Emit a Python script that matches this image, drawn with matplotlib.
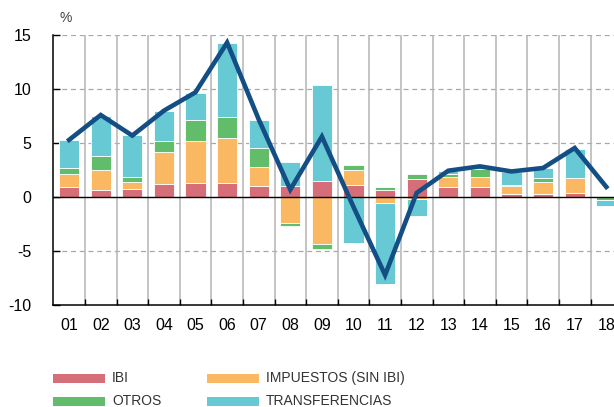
import matplotlib
matplotlib.use("Agg")
import matplotlib.pyplot as plt
from matplotlib.patches import Rectangle
import numpy as np
from matplotlib import font_manager

categories = ["01", "02", "03", "04", "05", "06", "07", "08", "09",
              "10", "11", "12", "13", "14", "15", "16", "17", "18"]
ibi = [0.9, 0.65, 0.77, 1.23, 1.27, 1.27, 1.02, 1.08, 1.48,
       1.17, 0.71, 1.64, 0.93, 0.9, 0.34, 0.31, 0.43, 0.0]
impuestos = [1.26, 1.91, 0.59, 2.97, 3.92, 4.22, 1.79, -2.35, -4.35,
             1.39, -0.56, -0.19, 0.98, 0.95, 0.65, 1.11, 1.33, 0.0]
otros = [0.56, 1.24, 0.52, 0.95, 1.91, 1.89, 1.73, -0.28, -0.46,
         0.46, 0.22, 0.49, 0.28, 0.74, 0.15, 0.4, 0.0, -0.25]
transferencias = [2.56, 3.73, 3.83, 2.84, 2.56, 6.85, 2.62, 2.16, 8.89,
                  -4.2, -7.5, -1.54, 0.22, 0.2, 1.2, 0.9, 2.74, -0.52]
total = [5.3, 7.6, 5.7, 8.0, 9.7, 14.3, 7.2, 0.7, 5.6,
         -0.9, -7.2, 0.4, 2.45, 2.85, 2.38, 2.7, 4.55, 0.95]
yticks = [15, 10, 5, 0, -5, -10]

names = set(f.name for f in font_manager.fontManager.ttflist)
base_font = "Liberation Sans"
narrow_font = "Liberation Sans Narrow" if "Liberation Sans Narrow" in names else "Liberation Sans"
plt.rcParams["font.family"] = [base_font, "DejaVu Sans"]

c_ibi = "#d66e79"
c_imp = "#fbb862"
c_otr = "#62bd6a"
c_tra = "#67c9d3"
c_line = "#134e84"

W, H = 614, 407
fig = plt.figure(figsize=(W / 100, H / 100), dpi=100)
ax_left, ax_right, ax_top, ax_bot = 53.3, 614, 35, 305.3
ax = fig.add_axes([ax_left / W, 1 - ax_bot / H, (ax_right - ax_left) / W, (ax_bot - ax_top) / H])

x = np.arange(len(categories))
series = [(ibi, c_ibi), (impuestos, c_imp), (otros, c_otr), (transferencias, c_tra)]
pos_base = np.zeros(len(x))
neg_base = np.zeros(len(x))
bw = 0.64
for vals, col in series:
    v = np.array(vals, dtype=float)
    bottoms = np.where(v >= 0, pos_base, neg_base)
    ax.bar(x, v, bw, bottom=bottoms, color=col, edgecolor="white", linewidth=0.6, zorder=3)
    pos_base = pos_base + np.where(v >= 0, v, 0)
    neg_base = neg_base + np.where(v < 0, v, 0)

ax.plot(x, total, color=c_line, linewidth=3.3, zorder=5, solid_joinstyle="miter")

ax.set_ylim(-10, 15)
step = 31.6
ax.set_xlim(-0.5, -0.5 + (ax_right - ax_left) / step)

# grid
for yv in [15, 10, 5, -5]:
    ax.axhline(yv, color="#a8a8a8", linestyle=(0, (4, 3)), linewidth=0.9, zorder=1)
for k in range(len(categories)):
    ax.axvline(k + 0.5, color="#b4b4b4", linewidth=1.1, zorder=1)
ax.axhline(0, color="black", linewidth=1.0, zorder=4)

for s in ["top", "right"]:
    ax.spines[s].set_visible(False)
ax.spines["left"].set_linewidth(1.1)
ax.spines["bottom"].set_linewidth(1.1)

ax.set_yticks(yticks)
ax.set_yticklabels([str(t) for t in yticks])
ax.tick_params(axis="y", direction="in", length=5, width=1, labelsize=11.5, pad=16, colors="black")
ax.set_xticks(x)
ax.set_xticklabels(categories)
ax.tick_params(axis="x", length=0, labelsize=11.5, pad=9)
ax.set_xticks(x[:-1] + 0.5, minor=True)
ax.tick_params(axis="x", which="minor", direction="in", length=4, width=1)

fig.text(60 / W, 1 - 18 / H, "%", fontsize=10, color="#444444", ha="left", va="center")

# legend
leg = [("IBI", c_ibi, 53, 378), ("IMPUESTOS (SIN IBI)", c_imp, 207, 378),
       ("OTROS", c_otr, 53, 401), ("TRANSFERENCIAS", c_tra, 207, 401)]
for label, col, lx, ly in leg:
    fig.patches.append(Rectangle((lx / W, 1 - (ly + 4.5) / H), 52 / W, 9 / H,
                                 transform=fig.transFigure, facecolor=col, edgecolor="none"))
    fig.text((lx + 59) / W, 1 - ly / H, label, fontsize=10, family=[narrow_font, "DejaVu Sans"],
             color="#333333", ha="left", va="center")

fig.savefig("out.png", dpi=100)
